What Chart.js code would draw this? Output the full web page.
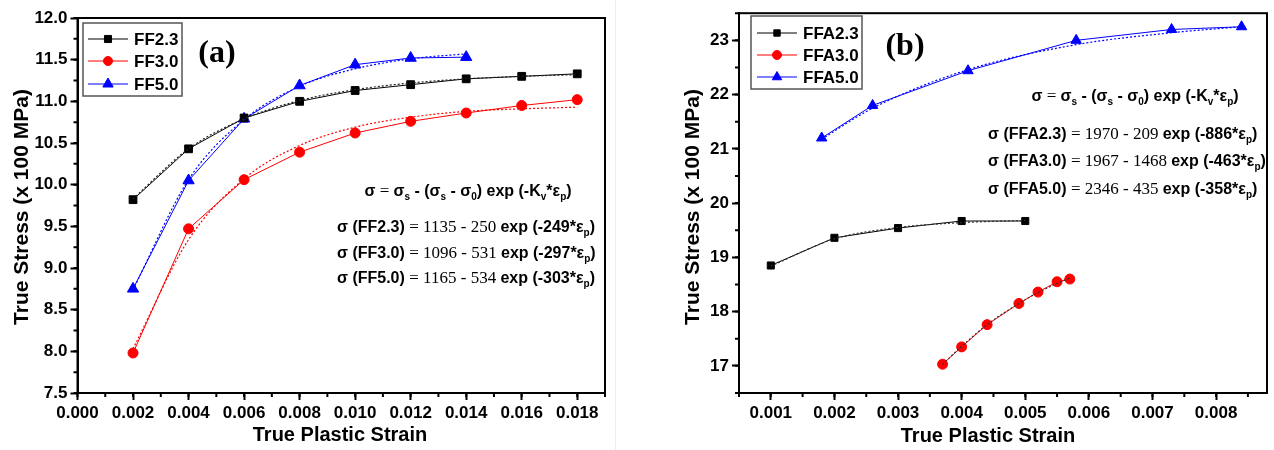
<!DOCTYPE html>
<html>
<head>
<meta charset="utf-8">
<script src="https://cdn.jsdelivr.net/npm/chart.js@4.4.1/dist/chart.umd.min.js"></script>
<style>
	body { margin: 0; background: #fff; }
	#wrap { position: relative; width: 1274px; height: 450px; overflow: hidden; }
	#chartA { position: absolute; left: 0; top: 0; }
	#chartB { position: absolute; left: 640px; top: 0; }
	#sep { position: absolute; left: 615px; top: 0; width: 1px; height: 450px; background: #ececec; }
</style>
</head>
<body>
<div id="wrap">
	<canvas id="chartA" width="620" height="450"></canvas>
	<div id="sep"></div>
	<canvas id="chartB" width="634" height="450"></canvas>
</div>
<script>
// ---- panel (a) data ----
const strainA = [0.002, 0.004, 0.006, 0.008, 0.010, 0.012, 0.014, 0.016, 0.018];
const strainA5 = [0.002, 0.004, 0.006, 0.008, 0.010, 0.012, 0.014];
const ff23 = [9.82, 10.43, 10.80, 11.00, 11.13, 11.20, 11.27, 11.30, 11.33];
const ff30 = [7.98, 9.47, 10.06, 10.39, 10.62, 10.76, 10.86, 10.95, 11.02];
const ff50 = [8.75, 10.05, 10.79, 11.19, 11.44, 11.52, 11.53];
const ff23Fit = [9.83, 10.43, 10.79, 11.01, 11.14, 11.22, 11.27, 11.30, 11.32];
const ff30Fit = [8.03, 9.34, 10.07, 10.47, 10.69, 10.81, 10.88, 10.91, 10.93];
const ff50Fit = [8.74, 10.06, 10.78, 11.18, 11.39, 11.51, 11.57];
const xTicksA = [0, 0.002, 0.004, 0.006, 0.008, 0.010, 0.012, 0.014, 0.016, 0.018];
const yTicksA = [7.5, 8.0, 8.5, 9.0, 9.5, 10.0, 10.5, 11.0, 11.5, 12.0];

// ---- panel (b) data ----
const strainFFA23 = [0.001, 0.002, 0.003, 0.004, 0.005];
const ffa23 = [18.85, 19.36, 19.54, 19.67, 19.67];
const ffa23Fit = [18.84, 19.34, 19.55, 19.64, 19.68];
const strainFFA30 = [0.0037, 0.0040, 0.0044, 0.0049, 0.0052, 0.0055, 0.0057];
const ffa30 = [17.03, 17.35, 17.76, 18.15, 18.36, 18.55, 18.60];
const ffa30Fit = [17.03, 17.36, 17.76, 18.15, 18.35, 18.52, 18.62];
const strainFFA50 = [0.0018, 0.0026, 0.0041, 0.0058, 0.0073, 0.0084];
const ffa50 = [21.20, 21.80, 22.44, 23.00, 23.20, 23.25];
const ffa50Fit = [21.18, 21.75, 22.46, 22.92, 23.14, 23.25];
const xTicksB = [0.001, 0.002, 0.003, 0.004, 0.005, 0.006, 0.007, 0.008];
const yTicksB = [17, 18, 19, 20, 21, 22, 23];

const SANS = '"Liberation Sans", Arial, sans-serif';
const SERIF = '"Liberation Serif", "Times New Roman", serif';
Chart.defaults.color = '#000';
Chart.defaults.font.family = SANS;

const pts = (xs, ys) => xs.map((x, i) => ({ x: x, y: ys[i] }));

const series = (label, xs, ys, color, style, radius) => ({
	label: label,
	data: pts(xs, ys),
	showLine: true,
	borderColor: color,
	backgroundColor: color,
	borderWidth: 1,
	pointStyle: style,
	pointRadius: radius,
	pointBorderWidth: 1,
	pointHoverRadius: radius,
});

const fit = (xs, ys, color) => ({
	isFit: true,
	data: pts(xs, ys),
	showLine: true,
	borderColor: color,
	borderWidth: 1.2,
	borderDash: [2, 2],
	pointRadius: 0,
	cubicInterpolationMode: 'monotone',
});

// rich text: parts [{t, f, sub}]
function drawRich(ctx, x, y, parts) {
	ctx.textAlign = 'left';
	ctx.textBaseline = 'alphabetic';
	let cx = x;
	parts.forEach((p) => {
		ctx.font = p.f;
		ctx.fillText(p.t, cx, y + (p.sub ? 4 : 0));
		cx += ctx.measureText(p.t).width;
	});
	return cx - x;
}
function richWidth(ctx, parts) {
	let w = 0;
	parts.forEach((p) => { ctx.font = p.f; w += ctx.measureText(p.t).width; });
	return w;
}

const fS = 'bold 16px ' + SANS;
const fR = '17px ' + SERIF;
const fSub = 'bold 10px ' + SANS;
const mainEq = [
	{ t: 'σ', f: fS }, { t: ' = ', f: fR }, { t: 'σ', f: fS }, { t: 's', f: fSub, sub: true },
	{ t: ' - (σ', f: fS }, { t: 's', f: fSub, sub: true }, { t: ' - σ', f: fS }, { t: '0', f: fSub, sub: true },
	{ t: ') exp (-K', f: fS }, { t: 'v', f: fSub, sub: true }, { t: '*ε', f: fS }, { t: 'p', f: fSub, sub: true },
	{ t: ')', f: fS },
];
const eqLine = (name, a, b, k) => [
	{ t: 'σ (' + name + ') ', f: fS }, { t: '= ' + a + ' - ' + b + ' ', f: fR },
	{ t: 'exp (-' + k + '*ε', f: fS }, { t: 'p', f: fSub, sub: true }, { t: ')', f: fS },
];

const panelPlugin = {
	id: 'panel',
	afterDraw(chart, args, o) {
		const { ctx, chartArea: a, scales } = chart;
		const xs = scales.x, ys = scales.y;
		ctx.save();
		// frame
		ctx.strokeStyle = '#000';
		ctx.lineWidth = 2;
		ctx.strokeRect(a.left, a.top, a.right - a.left, a.bottom - a.top);
		// minor ticks
		ctx.lineWidth = 2;
		ctx.beginPath();
		for (let i = 0; ; i++) {
			const v = xs.min + i * o.minorX;
			if (v > xs.max + 1e-12) break;
			const px = xs.getPixelForValue(v);
			ctx.moveTo(px, a.bottom);
			ctx.lineTo(px, a.bottom + 4);
		}
		for (let i = 0; ; i++) {
			const v = ys.min + i * o.minorY;
			if (v > ys.max + 1e-9) break;
			const py = ys.getPixelForValue(v);
			ctx.moveTo(a.left, py);
			ctx.lineTo(a.left - 4, py);
		}
		ctx.stroke();

		// axis titles
		ctx.fillStyle = '#000';
		ctx.font = 'bold 20px ' + SANS;
		ctx.textAlign = 'center';
		ctx.textBaseline = 'middle';
		ctx.fillText('True Plastic Strain', o.xTitle[0], o.xTitle[1]);
		ctx.save();
		ctx.translate(o.yTitle[0], o.yTitle[1]);
		ctx.rotate(-Math.PI / 2);
		ctx.font = 'bold 21px ' + SANS;
		ctx.fillText('True Stress (x 100 MPa)', 0, 0);
		ctx.restore();

		// panel tag
		ctx.font = 'bold 32px ' + SERIF;
		ctx.fillText(o.tag, o.tagPos[0], o.tagPos[1]);

		// legend
		const L = o.legend;
		ctx.strokeStyle = '#555';
		ctx.lineWidth = 1.5;
		ctx.strokeRect(L.box[0], L.box[1], L.box[2], L.box[3]);
		const items = chart.data.datasets.filter((d) => !d.isFit);
		items.forEach((d, i) => {
			const y = L.rows[i];
			ctx.strokeStyle = d.borderColor;
			ctx.lineWidth = 1;
			ctx.beginPath();
			ctx.moveTo(L.line[0], y);
			ctx.lineTo(L.line[1], y);
			ctx.stroke();
			ctx.fillStyle = d.backgroundColor;
			Chart.helpers.drawPoint(ctx, { pointStyle: d.pointStyle, radius: d.pointRadius - 0.5, rotation: 0, borderWidth: 1 },
				(L.line[0] + L.line[1]) / 2, y);
			ctx.fillStyle = '#000';
			ctx.font = 'bold 17px ' + SANS;
			ctx.textAlign = 'left';
			ctx.textBaseline = 'middle';
			ctx.fillText(d.label, L.textX, y + 1);
		});

		// equations
		ctx.fillStyle = '#000';
		const mw = richWidth(ctx, mainEq);
		drawRich(ctx, o.eqMain[0] - mw / 2, o.eqMain[1] + 6, mainEq);
		o.eqs.forEach((e, i) => {
			drawRich(ctx, o.eqX, o.eqRows[i] + 6, eqLine(e[0], e[1], e[2], e[3]));
		});
		ctx.restore();
	},
};

const axisX = (min, max, ticks, h, fmt) => ({
	type: 'linear',
	min: min,
	max: max,
	afterBuildTicks: (s) => { s.ticks = ticks.map((v) => ({ value: v })); },
	afterFit: (s) => { s.height = h; },
	border: { display: true, color: '#000', width: 2 },
	grid: { drawOnChartArea: false, drawTicks: true, tickLength: 7, tickWidth: 2, tickColor: '#000' },
	ticks: { font: { size: 17, weight: 'bold' }, padding: 3, maxRotation: 0, autoSkip: false, callback: fmt },
});
const axisY = (min, max, ticks, w, fmt) => ({
	type: 'linear',
	min: min,
	max: max,
	afterBuildTicks: (s) => { s.ticks = ticks.map((v) => ({ value: v })); },
	afterFit: (s) => { s.width = w; },
	border: { display: true, color: '#000', width: 2 },
	grid: { drawOnChartArea: false, drawTicks: true, tickLength: 7, tickWidth: 2, tickColor: '#000' },
	ticks: { font: { size: 17, weight: 'bold' }, padding: 3, autoSkip: false, callback: fmt },
});

new Chart(document.getElementById('chartA'), {
	type: 'scatter',
	data: {
		datasets: [
			fit(strainA, ff23Fit, '#222'),
			fit(strainA, ff30Fit, '#ff0000'),
			fit(strainA5, ff50Fit, '#0000ff'),
			series('FF2.3', strainA, ff23, '#000000', 'rect', 5.5),
			series('FF3.0', strainA, ff30, '#ff0000', 'circle', 5),
			series('FF5.0', strainA5, ff50, '#0000ff', 'triangle', 6.5),
		],
	},
	options: {
		responsive: false,
		animation: false,
		layout: { padding: { left: 0, top: 18, right: 15, bottom: 0 } },
		scales: {
			x: axisX(0, 0.019, xTicksA, 57, (v) => v.toFixed(3)),
			y: axisY(7.5, 12, yTicksA, 77.5, (v) => v.toFixed(1)),
		},
		plugins: {
			legend: { display: false },
			tooltip: { enabled: false },
			panel: {
				tag: '(a)', tagPos: [217, 54],
				minorX: 0.001, minorY: 0.25,
				xTitle: [340, 435], yTitle: [22, 207],
				legend: { box: [83, 23, 99, 73], rows: [39, 61, 84], line: [88, 128], textX: 134 },
				eqMain: [468, 190], eqX: 337, eqRows: [226, 252, 277],
				eqs: [['FF2.3', '1135', '250', '249'], ['FF3.0', '1096', '531', '297'], ['FF5.0', '1165', '534', '303']],
			},
		},
	},
	plugins: [panelPlugin],
});

new Chart(document.getElementById('chartB'), {
	type: 'scatter',
	data: {
		datasets: [
			fit(strainFFA23, ffa23Fit, '#333'),
			fit(strainFFA30, ffa30Fit, '#333'),
			fit(strainFFA50, ffa50Fit, '#0000ff'),
			series('FFA2.3', strainFFA23, ffa23, '#000000', 'rect', 5),
			series('FFA3.0', strainFFA30, ffa30, '#ff0000', 'circle', 5),
			series('FFA5.0', strainFFA50, ffa50, '#0000ff', 'triangle', 6),
		],
	},
	options: {
		responsive: false,
		animation: false,
		layout: { padding: { left: 0, top: 7, right: 4, bottom: 0 } },
		scales: {
			x: axisX(0.0005, 0.0088, xTicksB, 57, (v) => v.toFixed(3)),
			y: axisY(16.5, 23.5, yTicksB, 99, (v) => String(Math.round(v))),
		},
		plugins: {
			legend: { display: false },
			tooltip: { enabled: false },
			panel: {
				tag: '(b)', tagPos: [265, 47],
				minorX: 0.0005, minorY: 0.5,
				xTitle: [348, 436], yTitle: [53, 207],
				legend: { box: [111, 16, 111, 73], rows: [33, 55, 77], line: [117, 157], textX: 163 },
				eqMain: [495, 95], eqX: 348, eqRows: [133, 160, 188],
				eqs: [['FFA2.3', '1970', '209', '886'], ['FFA3.0', '1967', '1468', '463'], ['FFA5.0', '2346', '435', '358']],
			},
		},
	},
	plugins: [panelPlugin],
});
</script>
</body>
</html>
